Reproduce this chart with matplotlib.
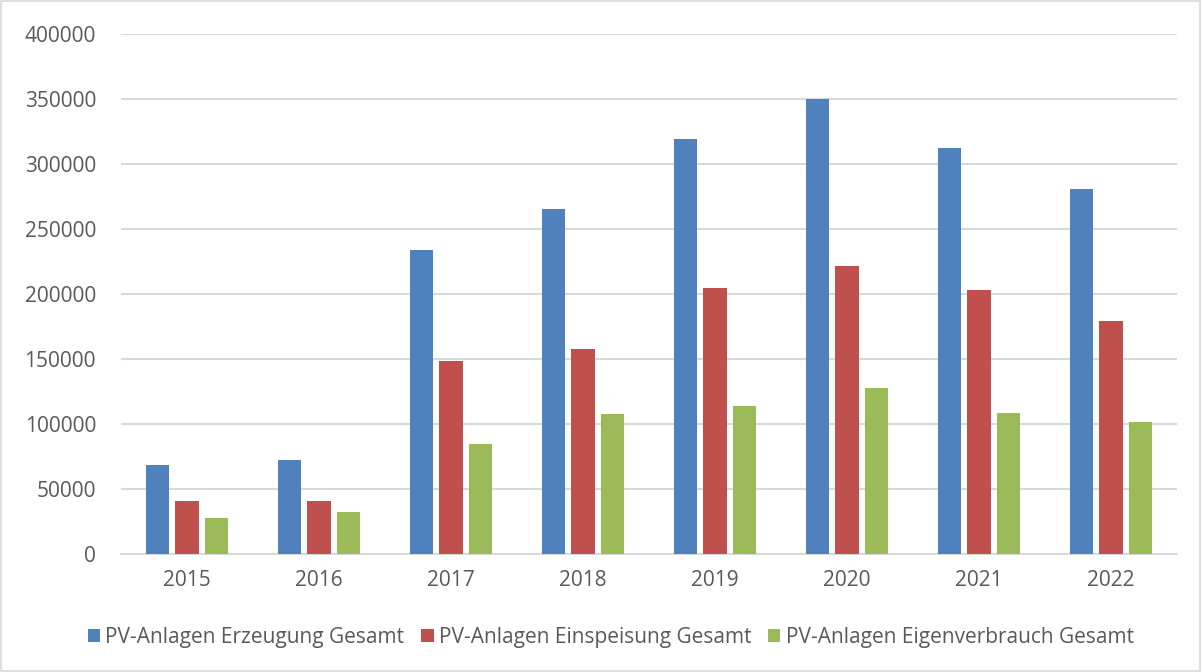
import numpy as np
import matplotlib.pyplot as plt
from matplotlib.patches import Rectangle

# Data
years = ["2015", "2016", "2017", "2018", "2019", "2020", "2021", "2022"]
erzeugung = [68500, 72300, 233600, 265000, 319000, 349800, 312000, 280500]
einspeisung = [40500, 40300, 148000, 157500, 204400, 221300, 203000, 179000]
eigenverbrauch = [27700, 31800, 84600, 107200, 113800, 127500, 108200, 101300]

series = [
    ("PV-Anlagen Erzeugung Gesamt", erzeugung, "#4f81bd"),
    ("PV-Anlagen Einspeisung Gesamt", einspeisung, "#c0504d"),
    ("PV-Anlagen Eigenverbrauch Gesamt", eigenverbrauch, "#9bbb59"),
]

plt.rcParams['font.family'] = ['Open Sans', 'DejaVu Sans']
text_color = "#595959"
grid_color = "#d9d9d9"

fig = plt.figure(figsize=(12.02, 6.72), dpi=100)
ax = fig.add_axes([0.1007, 0.176, 0.8785, 0.7734])

x = np.arange(len(years))
width = 0.177
step = 0.223

for i, (label, vals, color) in enumerate(series):
    ax.bar(x + (i - 1) * step, vals, width, color=color, label=label, zorder=3)

ax.set_xlim(-0.5, len(years) - 0.5)
ax.set_ylim(0, 400000)
ax.set_yticks(np.arange(0, 400001, 50000))
ax.set_xticks(x)
ax.set_xticklabels(years)
ax.tick_params(axis="both", length=0, labelsize=15, colors=text_color)
ax.tick_params(axis="y", pad=18)
ax.tick_params(axis="x", pad=12)

ax.grid(axis="y", color=grid_color, linewidth=1.5, zorder=0)
for side in ["top", "right", "left"]:
    ax.spines[side].set_visible(False)
ax.spines["bottom"].set_color(grid_color)
ax.spines["bottom"].set_linewidth(1.5)

leg = fig.legend(loc="center", bbox_to_anchor=(0.508, 0.052), ncol=3, frameon=False,
                 fontsize=15, handlelength=0.6, handleheight=0.6, handletextpad=0.25,
                 columnspacing=0.8)
for t in leg.get_texts():
    t.set_color(text_color)

# light border around the chart
fig.patches.append(Rectangle((0.001, 0.002), 0.997, 0.996, transform=fig.transFigure,
                             fill=False, edgecolor=grid_color, linewidth=1.2))

fig.savefig("out.png", dpi=100)
